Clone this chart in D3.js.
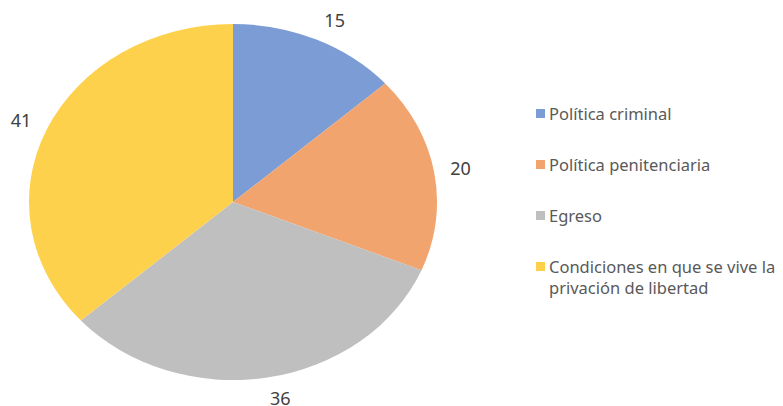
<!DOCTYPE html>
<html>
<head>
<meta charset="utf-8">
<script src="https://cdn.jsdelivr.net/npm/d3@7"></script>
<style>
  body { margin: 0; background: #fff; }
  svg { display: block; font-family: "Noto Sans", "Open Sans", sans-serif; }
</style>
</head>
<body>
<svg id="chart" width="783" height="406"></svg>
<script>
const categories = ['Política criminal', 'Política penitenciaria', 'Egreso', 'Condiciones en que se vive la privación de libertad'];
const values = [15, 20, 36, 41];
const colors = ['#7B9CD5', '#F1A46E', '#BFBFBF', '#FED14C'];
const legendLines = [['Política criminal'], ['Política penitenciaria'], ['Egreso'], ['Condiciones en que se vive la', 'privación de libertad']];

const svg = d3.select('#chart');

const cx = 233, cy = 202;
const rx = 204, ry = 178;

const pie = d3.pie().sort(null).value(d => d);
const arcs = pie(values);
const arc = d3.arc().innerRadius(0).outerRadius(1);

// pie drawn as a unit circle and stretched into an ellipse
const pieG = svg.append('g')
	.attr('transform', 'translate(' + cx + ',' + cy + ') scale(' + rx + ',' + ry + ')');

pieG.selectAll('path')
	.data(arcs)
	.enter().append('path')
	.attr('d', arc)
	.style('fill', (d, i) => colors[i]);

// outside end labels
function midAngle(d) { return (d.startAngle + d.endAngle) / 2; }

svg.append('g').selectAll('text')
	.data(arcs)
	.enter().append('text')
	.attr('x', d => {
		const a = midAngle(d);
		const s = Math.sin(a), c = Math.cos(a);
		return cx + s * rx * 1.13 + Math.sign(s) * 9 * c * c;
	})
	.attr('y', d => cy - Math.cos(midAngle(d)) * ry * 1.118)
	.attr('dy', '0.36em')
	.attr('text-anchor', 'middle')
	.style('font-size', '18px')
	.style('fill', '#404040')
	.text(d => d.data);

// legend
const legend = svg.append('g').attr('transform', 'translate(536, 109)');

const rows = legend.selectAll('g')
	.data(categories)
	.enter().append('g')
	.attr('transform', (d, i) => 'translate(0,' + (i * 51) + ')');

rows.append('rect')
	.attr('width', 9)
	.attr('height', 9)
	.style('fill', (d, i) => colors[i]);

rows.append('text')
	.attr('y', 10.5)
	.style('font-size', '16.5px')
	.style('fill', '#595959')
	.selectAll('tspan')
	.data((d, i) => legendLines[i])
	.enter().append('tspan')
	.attr('x', 13)
	.attr('dy', (d, i) => i === 0 ? 0 : 21)
	.text(d => d);
</script>
</body>
</html>
